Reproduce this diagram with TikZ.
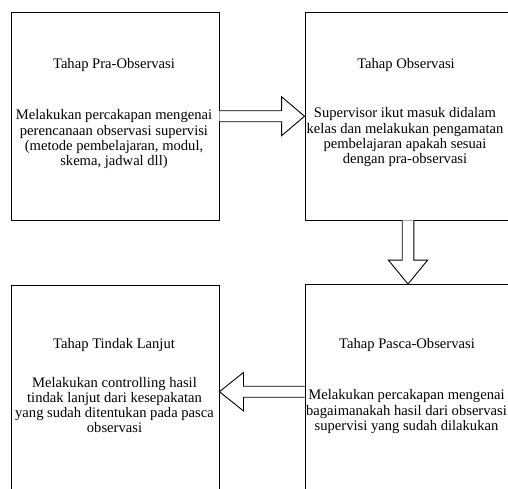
\documentclass[tikz,border=0pt]{standalone}
\usepackage{fontspec}
\setmainfont{Liberation Serif}
\newfontfamily\tnrfont{Liberation Serif}
\usetikzlibrary{calc}
\begin{document}
\begin{tikzpicture}[x=1pt,y=1pt,
  box/.style={draw=black,line width=0.9pt,rectangle,inner sep=0pt},
  txt/.style={inner sep=0pt,align=center,text=black,font=\tnrfont\fontsize{14.6pt}{15.2pt}\selectfont},
  blockarr/.style={draw=black,line width=0.9pt,line join=miter,fill=white}]
\useasboundingbox (0,0) rectangle (508,488);
\clip (0,0) rectangle (508,488);
% boxes
\node[box,minimum width=208pt,minimum height=207.5pt] (b1) at (115,371.75) {};
\node[box,minimum width=205pt,minimum height=207.5pt] (b2) at (407.5,371.75) {};
\node[box,minimum width=208pt,minimum height=212.4pt] (b3) at (115,96.3) {};
\node[box,minimum width=206pt,minimum height=214.4pt] (b4) at (408,96.3) {};
% texts
\node[txt] (t1) at (114,423) {Tahap Pra-Observasi};
\node[txt] (d1) at (114,348.8) {Melakukan percakapan mengenai\\perencanaan observasi supervisi\\(metode pembelajaran, modul,\\skema, jadwal dll)};
\node[txt] (t2) at (406,423) {Tahap Observasi};
\node[txt] (d2) at (405,350.8) {Supervisor ikut masuk didalam\\kelas dan melakukan pengamatan\\pembelajaran apakah sesuai\\dengan pra-observasi};
\node[txt] (t3) at (114,143) {Tahap Tindak Lanjut};
\node[txt] (d3) at (114.5,83) {Melakukan controlling hasil\\tindak lanjut dari kesepakatan\\yang sudah ditentukan pada pasca\\observasi};
\node[txt] (t4) at (407,143) {Tahap Pasca-Observasi};
\node[txt] (d4) at (406.5,76.3) {Melakukan percakapan mengenai\\bagaimanakah hasil dari observasi\\supervisi yang sudah dilakukan};
% block arrows
\draw[blockarr] ($(b1.east)+(0,5.5)$) -- ($(b2.west)+(-23,5.5)$) -- ($(b2.west)+(-23,19.5)$)
  -- (b2.west) -- ($(b2.west)+(-23,-19.5)$) -- ($(b2.west)+(-23,-5.5)$) -- ($(b1.east)+(0,-5.5)$);
\coordinate (a2s) at (b4.north |- b2.south);
\draw[blockarr] ($(a2s)+(-5.8,0)$) -- ($(b4.north)+(-5.8,24)$) -- ($(b4.north)+(-19.7,24)$)
  -- (b4.north) -- ($(b4.north)+(19.7,24)$) -- ($(b4.north)+(5.8,24)$) -- ($(a2s)+(5.8,0)$);
\draw[blockarr] ($(b4.west)+(0,5.5)$) -- ($(b3.east)+(24,5.5)$) -- ($(b3.east)+(24,19.2)$)
  -- (b3.east) -- ($(b3.east)+(24,-19.2)$) -- ($(b3.east)+(24,-5.5)$) -- ($(b4.west)+(0,-5.5)$);
\end{tikzpicture}
\end{document}
